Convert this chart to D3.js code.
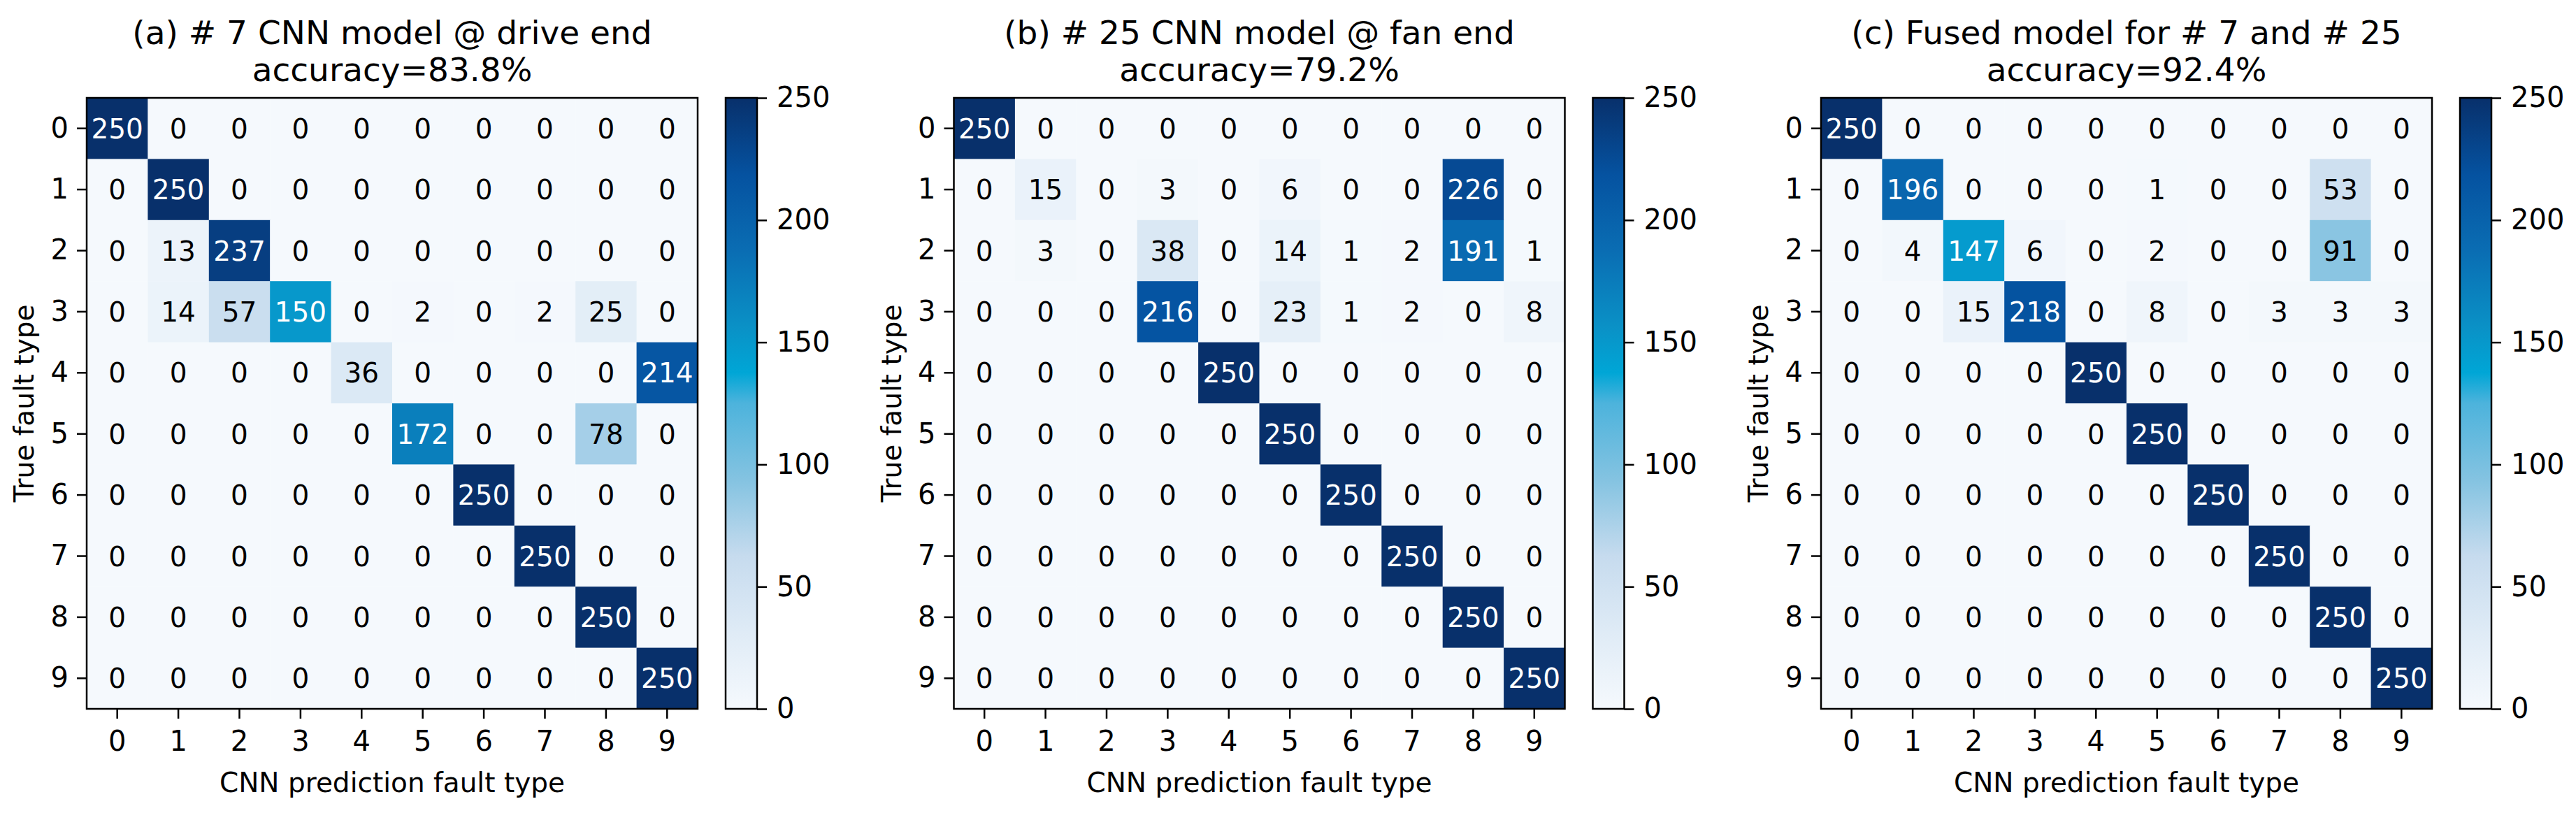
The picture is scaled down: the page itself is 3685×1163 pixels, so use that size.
<!DOCTYPE html>
<html>
<head>
<meta charset="utf-8">
<script src="https://cdn.jsdelivr.net/npm/d3@7"></script>
<style>
  body { margin: 0; background: #fff; }
  text { font-family: "DejaVu Sans", sans-serif; }
</style>
</head>
<body>
<div id="target"></div>
<script>
var width = 3685, height = 1163;

// fault type classes 0..9
var classes = [0, 1, 2, 3, 4, 5, 6, 7, 8, 9];
var colorbarTicks = [0, 50, 100, 150, 200, 250];
var vmax = 250;

// confusion matrices, rows = true type, cols = predicted
var cmDrive = [
  [250, 0, 0, 0, 0, 0, 0, 0, 0, 0],
  [0, 250, 0, 0, 0, 0, 0, 0, 0, 0],
  [0, 13, 237, 0, 0, 0, 0, 0, 0, 0],
  [0, 14, 57, 150, 0, 2, 0, 2, 25, 0],
  [0, 0, 0, 0, 36, 0, 0, 0, 0, 214],
  [0, 0, 0, 0, 0, 172, 0, 0, 78, 0],
  [0, 0, 0, 0, 0, 0, 250, 0, 0, 0],
  [0, 0, 0, 0, 0, 0, 0, 250, 0, 0],
  [0, 0, 0, 0, 0, 0, 0, 0, 250, 0],
  [0, 0, 0, 0, 0, 0, 0, 0, 0, 250]
];
var cmFan = [
  [250, 0, 0, 0, 0, 0, 0, 0, 0, 0],
  [0, 15, 0, 3, 0, 6, 0, 0, 226, 0],
  [0, 3, 0, 38, 0, 14, 1, 2, 191, 1],
  [0, 0, 0, 216, 0, 23, 1, 2, 0, 8],
  [0, 0, 0, 0, 250, 0, 0, 0, 0, 0],
  [0, 0, 0, 0, 0, 250, 0, 0, 0, 0],
  [0, 0, 0, 0, 0, 0, 250, 0, 0, 0],
  [0, 0, 0, 0, 0, 0, 0, 250, 0, 0],
  [0, 0, 0, 0, 0, 0, 0, 0, 250, 0],
  [0, 0, 0, 0, 0, 0, 0, 0, 0, 250]
];
var cmFused = [
  [250, 0, 0, 0, 0, 0, 0, 0, 0, 0],
  [0, 196, 0, 0, 0, 1, 0, 0, 53, 0],
  [0, 4, 147, 6, 0, 2, 0, 0, 91, 0],
  [0, 0, 15, 218, 0, 8, 0, 3, 3, 3],
  [0, 0, 0, 0, 250, 0, 0, 0, 0, 0],
  [0, 0, 0, 0, 0, 250, 0, 0, 0, 0],
  [0, 0, 0, 0, 0, 0, 250, 0, 0, 0],
  [0, 0, 0, 0, 0, 0, 0, 250, 0, 0],
  [0, 0, 0, 0, 0, 0, 0, 0, 250, 0],
  [0, 0, 0, 0, 0, 0, 0, 0, 0, 250]
];
var titles = [
  ["(a) # 7 CNN model @ drive end", "accuracy=83.8%"],
  ["(b) # 25 CNN model @ fan end", "accuracy=79.2%"],
  ["(c) Fused model for # 7 and # 25", "accuracy=92.4%"]
];
var matrices = [cmDrive, cmFan, cmFused];

// "Blues"-like colour ramp as it appears in the picture
var rampStops = [0, 0.125, 0.25, 0.375, 0.5, 0.55, 0.625, 0.75, 0.875, 1];
var rampColors = ["#f5f9fd", "#dfebf6", "#c6dbee", "#84c3e1", "#4db3dc",
                  "#00a6d6", "#0a91c6", "#0a6db3", "#0552a0", "#08306b"];

var color = d3.scaleLinear()
    .domain(rampStops.map(function (s) { return s * vmax; }))
    .range(rampColors)
    .interpolate(d3.interpolateRgb);

var svg = d3.select('#target').append('svg')
    .attr('width', width)
    .attr('height', height);

var defs = svg.append('defs');
var grad = defs.append('linearGradient')
    .attr('id', 'cbar')
    .attr('x1', 0).attr('y1', 1).attr('x2', 0).attr('y2', 0);
grad.selectAll('stop')
    .data(rampStops)
    .enter().append('stop')
    .attr('offset', function (d) { return d; })
    .attr('stop-color', function (d, i) { return rampColors[i]; });

var size = 874, plotTop = 140, panelStep = 1240.5, firstLeft = 124;
var tickFont = 40, cellFont = 39, labelFont = 39, titleFont = 47;

function drawPanel(p) {
    var cm = matrices[p];
    var g = svg.append('g')
        .attr('transform', 'translate(' + (firstLeft + p * panelStep) + ',' + plotTop + ')');

    var x = d3.scaleBand().domain(classes).range([0, size]);
    var y = d3.scaleBand().domain(classes).range([0, size]);

    var cells = [];
    cm.forEach(function (row, i) {
        row.forEach(function (v, j) {
            cells.push({r: i, c: j, v: v});
        });
    });

    g.selectAll('rect.cell')
        .data(cells)
        .enter().append('rect')
        .attr('class', 'cell')
        .attr('x', function (d) { return x(d.c); })
        .attr('y', function (d) { return y(d.r); })
        .attr('width', x.bandwidth() + 0.5)
        .attr('height', y.bandwidth() + 0.5)
        .attr('fill', function (d) { return color(d.v); });

    g.selectAll('text.val')
        .data(cells)
        .enter().append('text')
        .attr('class', 'val')
        .attr('x', function (d) { return x(d.c) + x.bandwidth() / 2; })
        .attr('y', function (d) { return y(d.r) + y.bandwidth() / 2; })
        .attr('dy', '0.36em')
        .attr('text-anchor', 'middle')
        .style('font-size', cellFont + 'px')
        .style('fill', function (d) { return d.v > vmax / 2 ? '#fff' : '#000'; })
        .text(function (d) { return d.v; });

    // frame
    g.append('rect')
        .attr('width', size).attr('height', size)
        .attr('fill', 'none')
        .attr('stroke', '#000')
        .attr('stroke-width', 2.5);

    var xAxis = g.append('g')
        .attr('transform', 'translate(0,' + size + ')')
        .call(d3.axisBottom(x).tickSize(14).tickPadding(18));
    var yAxis = g.append('g')
        .call(d3.axisLeft(y).tickSize(14).tickPadding(12));
    [xAxis, yAxis].forEach(function (a) {
        a.select('.domain').remove();
        a.selectAll('line').attr('stroke-width', 2.5);
        a.selectAll('text').style('font-size', tickFont + 'px')
            .style('font-family', '"DejaVu Sans", sans-serif');
    });

    g.append('text')
        .attr('x', size / 2).attr('y', 1133 - plotTop)
        .attr('text-anchor', 'middle')
        .style('font-size', labelFont + 'px')
        .text('CNN prediction fault type');

    g.append('text')
        .attr('transform', 'translate(' + (48 - firstLeft) + ',' + (size / 2) + ') rotate(-90)')
        .attr('text-anchor', 'middle')
        .style('font-size', labelFont + 'px')
        .text('True fault type');

    g.selectAll('text.title')
        .data(titles[p])
        .enter().append('text')
        .attr('class', 'title')
        .attr('x', size / 2)
        .attr('y', function (d, i) { return 63 - plotTop + i * 53; })
        .attr('text-anchor', 'middle')
        .style('font-size', titleFont + 'px')
        .text(function (d) { return d; });

    // colour bar
    var cb = g.append('g').attr('transform', 'translate(914,0)');
    cb.append('rect')
        .attr('width', 45).attr('height', size)
        .attr('fill', 'url(#cbar)')
        .attr('stroke', '#000')
        .attr('stroke-width', 2.5);
    var cScale = d3.scaleLinear().domain([0, vmax]).range([size, 0]);
    var cAxis = cb.append('g')
        .attr('transform', 'translate(45,0)')
        .call(d3.axisRight(cScale).tickValues(colorbarTicks).tickSize(14).tickPadding(14));
    cAxis.select('.domain').remove();
    cAxis.selectAll('line').attr('stroke-width', 2.5);
    cAxis.selectAll('text').style('font-size', tickFont + 'px')
        .style('font-family', '"DejaVu Sans", sans-serif');
}

for (var p = 0; p < matrices.length; p++) {
    drawPanel(p);
}
</script>
</body>
</html>
